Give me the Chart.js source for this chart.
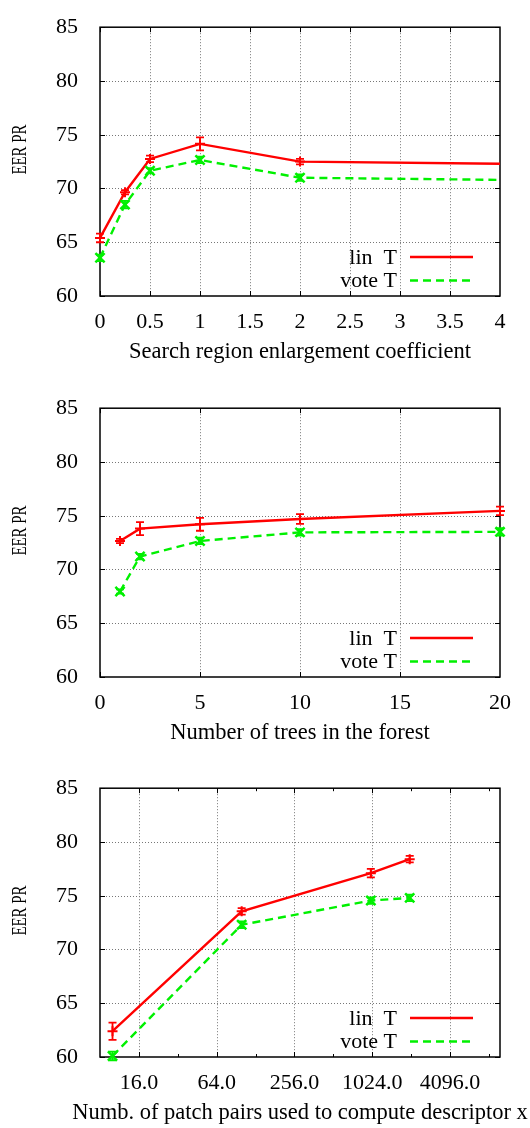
<!DOCTYPE html>
<html><head><meta charset="utf-8">
<script src="https://cdn.jsdelivr.net/npm/chart.js@4"></script>
<style>
html,body{margin:0;padding:0;background:#fff;width:530px;height:1128px;overflow:hidden}
.box{position:absolute;left:0;width:530px;height:367px}
</style></head><body>
<div class="box" style="top:0px"><canvas id="c1"></canvas></div>
<div class="box" style="top:381px"><canvas id="c2"></canvas></div>
<div class="box" style="top:761px"><canvas id="c3"></canvas></div>
<script>
const FONT = "'Liberation Serif', 'Times New Roman', serif";

// ---- shared ----
const yTicks = [60, 65, 70, 75, 80, 85];
const yTitle = "EER PR";
const legendLabels = ["lin  T", "vote T"];

// ---- chart 1 ----
const searchCoef = [0, 0.25, 0.5, 1, 2, 4];
const searchLin = [65.4, 69.65, 72.75, 74.15, 72.5, 72.3];
const searchLinErr = [0.4, 0.2, 0.3, 0.6, 0.25, 0];
const searchVote = [63.55, 68.5, 71.65, 72.65, 71.0, 70.8];
const searchVoteErr = [0.3, 0.35, 0.25, 0.3, 0.3, 0];
const searchXTicks = [0, 0.5, 1, 1.5, 2, 2.5, 3, 3.5, 4];
const searchTitle = "Search region enlargement coefficient";

// ---- chart 2 ----
const treeCount = [1, 2, 5, 10, 20];
const treeLin = [72.65, 73.8, 74.2, 74.7, 75.45];
const treeLinErr = [0.2, 0.6, 0.6, 0.45, 0.4];
const treeVote = [67.95, 71.2, 72.65, 73.45, 73.5];
const treeVoteErr = [0.2, 0.25, 0.3, 0.3, 0.35];
const treeXTicks = [0, 5, 10, 15, 20];
const treeTitle = "Number of trees in the forest";

// ---- chart 3 ----
const pairCount = [10, 100, 1000, 2000];
const pairLin = [62.4, 73.55, 77.1, 78.4];
const pairLinErr = [0.8, 0.3, 0.4, 0.3];
const pairVote = [60.1, 72.3, 74.55, 74.8];
const pairVoteErr = [0.4, 0.3, 0.3, 0.3];
const pairXTicks = [16, 64, 256, 1024, 4096];
const pairXMinor = [32, 128, 512, 2048, 8192];
const pairTitle = "Numb. of patch pairs used to compute descriptor x";

const RED = '#ff0000', GREEN = '#00f000';

const decor = {
  id: 'decor',
  beforeDatasetsDraw(chart, args, o) {
    const {ctx, chartArea: a, scales: {x, y}} = chart;
    ctx.save();
    ctx.lineWidth = 1;
    ctx.strokeStyle = '#777';
    ctx.setLineDash([1, 2]);
    const ln = (x1, y1, x2, y2) => { ctx.beginPath(); ctx.moveTo(x1, y1); ctx.lineTo(x2, y2); ctx.stroke(); };
    o.xTicks.forEach(v => {
      const px = Math.round(x.getPixelForValue(v)) + 0.5;
      if (px > a.left + 2 && px < a.right - 2) ln(px, a.top, px, a.bottom);
    });
    o.yTicks.forEach(v => {
      const py = Math.round(y.getPixelForValue(v)) + 0.5;
      if (py > a.top + 2 && py < a.bottom - 2) ln(a.left, py, a.right, py);
    });
    ctx.setLineDash([]);
    ctx.strokeStyle = '#000';
    ctx.lineWidth = 1;
    const tk = (vals, len) => vals.forEach(v => {
      const px = Math.round(x.getPixelForValue(v)) + 0.5;
      if (px < a.left || px > a.right) return;
      ln(px, a.bottom, px, a.bottom - len);
      ln(px, a.top, px, a.top + len);
    });
    tk(o.xTicks, 5);
    tk(o.xMinor || [], 3);
    o.yTicks.forEach(v => {
      const py = Math.round(y.getPixelForValue(v)) + 0.5;
      ln(a.left, py, a.left + 5, py);
      ln(a.right, py, a.right - 5, py);
    });
    ctx.lineWidth = 1.5;
    ctx.strokeRect(a.left, a.top, a.right - a.left, a.bottom - a.top);
    ctx.restore();
  },
  afterDatasetsDraw(chart, args, o) {
    const {ctx, chartArea: a, scales: {x, y}} = chart;
    ctx.save();
    chart.data.datasets.forEach((ds, i) => {
      const err = o.errs[i];
      ctx.strokeStyle = ds.borderColor;
      ctx.lineWidth = 1.8;
      ctx.setLineDash([]);
      ds.data.forEach((p, j) => {
        if (!err[j]) return;
        const px = x.getPixelForValue(p.x);
        const y1 = y.getPixelForValue(p.y - err[j]);
        const y2 = y.getPixelForValue(p.y + err[j]);
        ctx.beginPath();
        ctx.moveTo(px, y1); ctx.lineTo(px, y2);
        ctx.moveTo(px - 4, y1); ctx.lineTo(px + 4, y1);
        ctx.moveTo(px - 4, y2); ctx.lineTo(px + 4, y2);
        ctx.stroke();
      });
    });
    // legend
    ctx.font = '22px ' + FONT;
    ctx.fillStyle = '#000';
    ctx.textAlign = 'right';
    ctx.textBaseline = 'middle';
    chart.data.datasets.forEach((ds, i) => {
      const ly = a.bottom - 39 + i * 23.5;
      ctx.fillText(ds.label, a.right - 103, ly + 1);
      ctx.strokeStyle = ds.borderColor;
      ctx.lineWidth = ds.borderWidth;
      ctx.setLineDash(ds.borderDash || []);
      ctx.beginPath();
      ctx.moveTo(a.right - 90, ly);
      ctx.lineTo(a.right - 27, ly);
      ctx.stroke();
    });
    ctx.setLineDash([]);
    // x title (no width limit, may run past the edge like the original)
    ctx.font = '22.5px ' + FONT;
    ctx.textAlign = 'center';
    ctx.fillText(o.xTitle, (a.left + a.right) / 2, a.bottom + 56.5);
    // y title
    ctx.font = '20px ' + FONT;
    ctx.translate(21, (a.top + a.bottom) / 2 - 12);
    ctx.rotate(-Math.PI / 2);
    ctx.textAlign = 'center';
    const w = ctx.measureText(yTitle).width;
    ctx.scale(50 / w, 1);
    ctx.fillText(yTitle, 0, 0);
    ctx.restore();
  }
};

function pts(xs, ys) { return xs.map((v, i) => ({x: v, y: ys[i]})); }

function makeChart(id, xs, lin, linErr, vote, voteErr, xScale, xTicks, xMinor, title, hideLast) {
  const radii = (r) => xs.map((v, i) => (hideLast && i === xs.length - 1) ? 0 : r);
  new Chart(document.getElementById(id), {
    type: 'line',
    data: {
      datasets: [
        {label: legendLabels[0], data: pts(xs, lin), borderColor: RED, backgroundColor: RED,
         borderWidth: 2.4, pointStyle: 'cross', pointRadius: radii(5), pointBorderWidth: 2,
         pointBorderColor: RED, fill: false, tension: 0, clip: false, order: 2},
        {label: legendLabels[1], data: pts(xs, vote), borderColor: GREEN, backgroundColor: GREEN,
         borderWidth: 2.4, borderDash: [8, 5], pointStyle: 'crossRot', pointRadius: radii(6.5), pointBorderWidth: 2.5,
         pointBorderColor: GREEN, fill: false, tension: 0, clip: false, order: 1}
      ]
    },
    options: {
      responsive: true, maintainAspectRatio: false, animation: false,
      layout: {padding: {top: 13, right: 30, left: 0, bottom: 0}},
      plugins: {
        legend: {display: false}, tooltip: {enabled: false},
        decor: {xTicks: xTicks, xMinor: xMinor, yTicks: yTicks, errs: [linErr, voteErr], xTitle: title}
      },
      scales: {
        x: Object.assign({
          position: 'bottom',
          grid: {display: false}, border: {display: false},
          afterFit: s => { s.height = 71; },
          afterBuildTicks: s => { s.ticks = xTicks.map(v => ({value: v})); },
          ticks: {padding: 5, color: '#000', font: {family: FONT, size: 22}, maxRotation: 0, autoSkip: false,
                  callback: v => xScale.type === 'logarithmic' ? Number(v).toFixed(1) : String(v)},
          title: {display: false}
        }, xScale),
        y: {
          type: 'linear', min: 60, max: 85,
          grid: {display: false}, border: {display: false},
          afterFit: s => { s.width = 100; },
          afterBuildTicks: s => { s.ticks = yTicks.map(v => ({value: v})); },
          ticks: {padding: 14, color: '#000', font: {family: FONT, size: 22}, callback: v => String(v)}
        }
      }
    },
    plugins: [decor]
  });
}

makeChart('c1', searchCoef, searchLin, searchLinErr, searchVote, searchVoteErr,
  {type: 'linear', min: 0, max: 4}, searchXTicks, null, searchTitle, true);
makeChart('c2', treeCount, treeLin, treeLinErr, treeVote, treeVoteErr,
  {type: 'linear', min: 0, max: 20}, treeXTicks, null, treeTitle, false);
makeChart('c3', pairCount, pairLin, pairLinErr, pairVote, pairVoteErr,
  {type: 'logarithmic', min: 8, max: 10000}, pairXTicks, pairXMinor, pairTitle, false);
</script>
</body></html>
